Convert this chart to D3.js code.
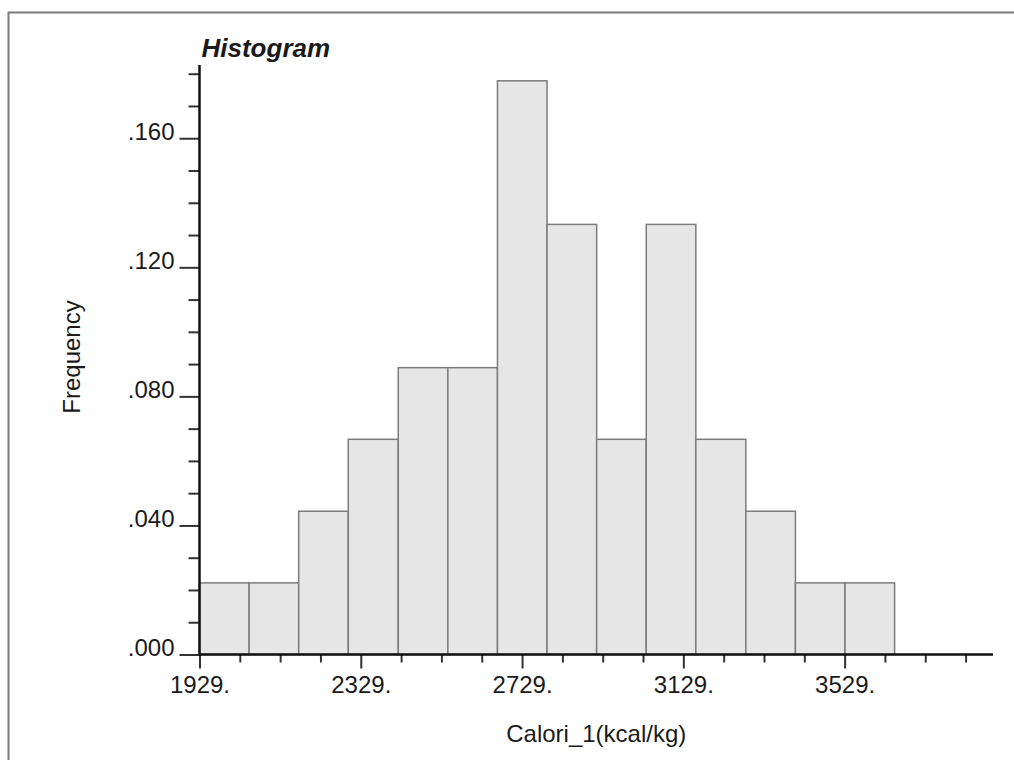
<!DOCTYPE html>
<html>
<head>
<meta charset="utf-8">
<script src="https://cdn.jsdelivr.net/npm/d3@7"></script>
<style>
    body { margin: 0; background: #fff; }
    text { font-family: "Liberation Sans", Arial, sans-serif; fill: #1a1a1a; }
</style>
</head>
<body>
<div id="chart-area"></div>
<script>

// data
const binEdges = [1929, 2052, 2175, 2298, 2422, 2545, 2668, 2791, 2914, 3037, 3160, 3284, 3407, 3530, 3653]
const frequencies = [0.0222, 0.0222, 0.0444, 0.0667, 0.0889, 0.0889, 0.1778, 0.1333, 0.0667, 0.1333, 0.0667, 0.0444, 0.0222, 0.0222]

const xMajorTicks = [1929, 2329, 2729, 3129, 3529]
const yMajorTicks = [0, 0.04, 0.08, 0.12, 0.16]
const xDomain = [1929, 3897]
const yDomain = [0, 0.1827]

const TITLE = "Histogram"
const X_LABEL = "Calori_1(kcal/kg)"
const Y_LABEL = "Frequency"

const totalWidth = 1014
const totalHeight = 760
const MARGIN = {LEFT: 199.5, RIGHT: 21, TOP: 65, BOTTOM: 105.5}

const WIDTH = totalWidth - MARGIN.LEFT - MARGIN.RIGHT
const HEIGHT = totalHeight - MARGIN.TOP - MARGIN.BOTTOM
const FONT = "24px"

const svg = d3.select("#chart-area")
    .append("svg")
    .attr("width", totalWidth)
    .attr("height", totalHeight)

// outer frame (runs off the right and bottom edges)
svg.append("rect")
    .attr("x", 8.5)
    .attr("y", 12.5)
    .attr("width", totalWidth + 20)
    .attr("height", totalHeight + 20)
    .attr("fill", "none")
    .attr("stroke", "#7a7a7a")
    .attr("stroke-width", 2)

const g = svg.append("g")
    .attr("transform", `translate(${MARGIN.LEFT}, ${MARGIN.TOP})`)

const xScale = d3.scaleLinear()
    .domain(xDomain)
    .range([0, WIDTH])

const yScale = d3.scaleLinear()
    .domain(yDomain)
    .range([HEIGHT, 0])

// bars
const bins = frequencies.map((f, i) => ({x0: binEdges[i], x1: binEdges[i + 1], f: f}))

g.selectAll("rect.bar")
    .data(bins)
    .enter()
    .append("rect")
    .attr("class", "bar")
    .attr("x", d => xScale(d.x0))
    .attr("width", d => xScale(d.x1) - xScale(d.x0))
    .attr("y", d => yScale(d.f))
    .attr("height", d => HEIGHT - yScale(d.f))
    .attr("fill", "#e6e6e6")
    .attr("stroke", "#7c7c7c")
    .attr("stroke-width", 1.5)

// minor ticks
const xMinorTicks = d3.range(xDomain[0], xDomain[1], 100).filter(v => !xMajorTicks.includes(v))
const yMinorTicks = d3.range(1, 19).map(v => v / 100).filter(v => !yMajorTicks.some(t => Math.abs(t - v) < 1e-9))

const xMinor = g.append("g")
    .attr("class", "x axis minor")
    .attr("transform", `translate(0, ${HEIGHT})`)
    .call(d3.axisBottom(xScale).tickValues(xMinorTicks).tickSize(8).tickSizeOuter(0).tickFormat(""))
xMinor.select(".domain").remove()

const yMinor = g.append("g")
    .attr("class", "y axis minor")
    .call(d3.axisLeft(yScale).tickValues(yMinorTicks).tickSize(11).tickSizeOuter(0).tickFormat(""))
yMinor.select(".domain").remove()

// major ticks + labels
const xAxis = g.append("g")
    .attr("class", "x axis")
    .attr("transform", `translate(0, ${HEIGHT})`)
    .call(d3.axisBottom(xScale).tickValues(xMajorTicks).tickSize(14).tickSizeOuter(0).tickFormat(d => d + "."))
xAxis.select(".domain").remove()
xAxis.selectAll("text")
    .attr("y", 38.5)
    .attr("dy", 0)
    .attr("font-size", FONT)
    .attr("font-family", "Liberation Sans, Arial, sans-serif")

const yAxis = g.append("g")
    .attr("class", "y axis")
    .call(d3.axisLeft(yScale).tickValues(yMajorTicks).tickSize(20).tickSizeOuter(0)
        .tickFormat(d => d3.format(".3f")(d).replace(/^0/, "")))
yAxis.select(".domain").remove()
yAxis.selectAll("text")
    .attr("x", -25)
    .attr("y", 1)
    .attr("dy", 0)
    .attr("font-size", FONT)
    .attr("font-family", "Liberation Sans, Arial, sans-serif")

svg.selectAll(".axis line")
    .attr("stroke", "#333")
    .attr("stroke-width", 2)

// axis lines
g.append("line")
    .attr("x1", 0).attr("x2", 0)
    .attr("y1", 0).attr("y2", HEIGHT + 1)
    .attr("stroke", "#111")
    .attr("stroke-width", 2.5)

g.append("line")
    .attr("x1", 0).attr("x2", WIDTH)
    .attr("y1", HEIGHT).attr("y2", HEIGHT)
    .attr("stroke", "#111")
    .attr("stroke-width", 2.5)

// texts
g.append("text")
    .attr("x", 2)
    .attr("y", -8)
    .attr("font-size", "26px")
    .attr("font-weight", "bold")
    .attr("font-style", "italic")
    .text(TITLE)

g.append("text")
    .attr("x", WIDTH / 2)
    .attr("y", HEIGHT + 87)
    .attr("font-size", FONT)
    .attr("text-anchor", "middle")
    .text(X_LABEL)

svg.append("text")
    .attr("transform", `translate(80, 357) rotate(-90)`)
    .attr("font-size", FONT)
    .attr("text-anchor", "middle")
    .text(Y_LABEL)

</script>
</body>
</html>
